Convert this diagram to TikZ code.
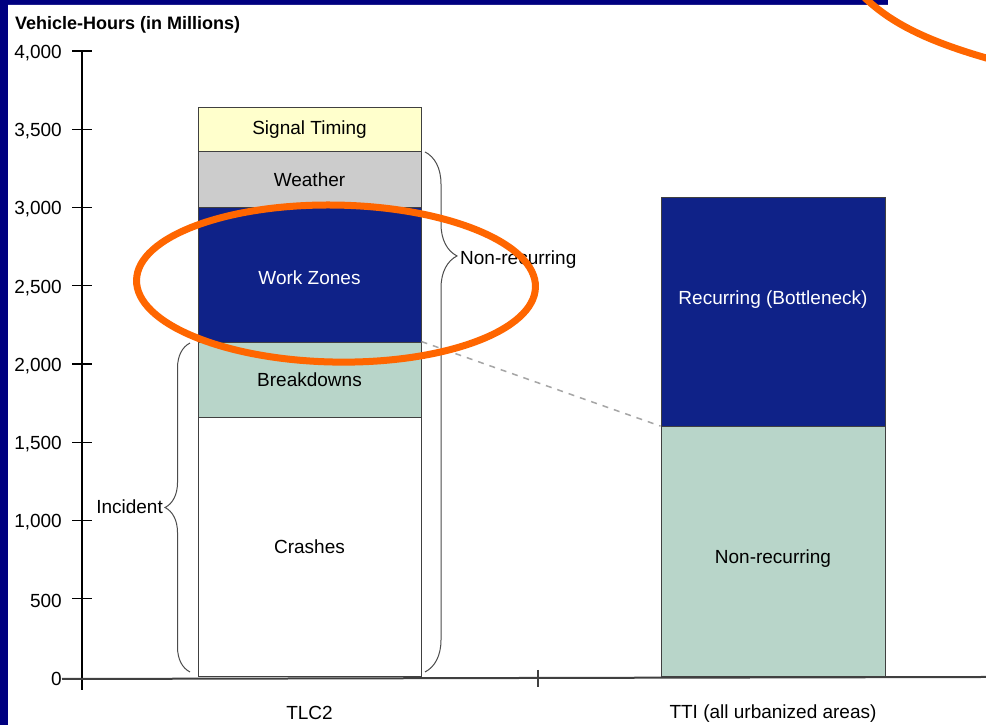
\documentclass[tikz,border=0pt]{standalone}
\usepackage{fontspec}
\setmainfont{Liberation Sans}
\usetikzlibrary{fit,decorations.pathreplacing}
\definecolor{slidenavy}{RGB}{0,0,128}
\definecolor{zonenavy}{RGB}{15,34,136}
\definecolor{breakteal}{RGB}{184,213,201}
\definecolor{weathergray}{RGB}{204,204,204}
\definecolor{signalyellow}{RGB}{255,255,204}
\definecolor{ringorange}{RGB}{255,102,0}
\begin{document}
\begin{tikzpicture}[x=1pt,y=0.1565pt,
		every node/.style={font=\fontsize{19}{21}\selectfont},
		seg/.style={draw=black!75,line width=1pt,inner sep=0pt},
		ticklbl/.style={anchor=east,inner sep=0pt,yshift=-2pt},
		tickmark/.style={line width=1.2pt},
		brc/.style={decorate,draw=black!70,line width=1pt},
		ring/.style={draw=ringorange,line width=7pt}]
		\fill[slidenavy] (0,-306.7) rectangle (986,4326);
		\fill[white] (8,-306.7) rectangle (986,4294) (888,4294) rectangle (986,4326);
		\useasboundingbox (0,-306.7) rectangle (986,4326);
		\node[anchor=west,inner sep=0pt,font=\fontsize{18}{20}\selectfont\bfseries] (ttl) at (15,4165) {Vehicle-Hours (in Millions)};
		\draw[tickmark] (72,4000) -- (92,4000); \node[ticklbl] (t4000) at (62,4000) {4,000};
		\draw[tickmark] (72,3500) -- (92,3500); \node[ticklbl] (t3500) at (62,3500) {3,500};
		\draw[tickmark] (72,3000) -- (92,3000); \node[ticklbl] (t3000) at (62,3000) {3,000};
		\draw[tickmark] (72,2500) -- (92,2500); \node[ticklbl] (t2500) at (62,2500) {2,500};
		\draw[tickmark] (72,2000) -- (92,2000); \node[ticklbl] (t2000) at (62,2000) {2,000};
		\draw[tickmark] (72,1500) -- (92,1500); \node[ticklbl] (t1500) at (62,1500) {1,500};
		\draw[tickmark] (72,1000) -- (92,1000); \node[ticklbl] (t1000) at (62,1000) {1,000};
		\draw[tickmark] (72,500) -- (92,500); \node[ticklbl] (t500) at (62,500) {500};
		\node[ticklbl] (t0) at (62,0) {0};
		\coordinate (ytop) at (82,4000);
		\coordinate (ybot) at (82,-83);
		\coordinate (xend) at (986,0);
		\draw[line width=1.5pt] (ytop) -- (ybot);
		\draw[line width=2pt,black!75] (t0.east) -- (xend);
		\draw[line width=2pt,black!75] (538,45) -- (538,-64);
		\node[seg,fill=white,fit={(198,0) (421,1660)},label={center:Crashes}] (crash) {};
		\node[seg,fill=breakteal,fit={(198,1660) (421,2140)},label={center:Breakdowns}] (brk) {};
		\node[seg,fill=zonenavy,fit={(198,2140) (421,3000)},label={[text=white,yshift=-3pt]center:Work Zones}] (wz) {};
		\node[seg,fill=weathergray,fit={(198,3000) (421,3355)},label={center:Weather}] (wthr) {};
		\node[seg,fill=signalyellow,fit={(198,3355) (421,3642)},label={center:Signal Timing}] (sig) {};
		\node[seg,fill=breakteal,fit={(661,0) (885,1600)},label={[yshift=-7pt]center:Non-recurring}] (ttinr) {};
		\node[seg,fill=zonenavy,fit={(661,1600) (885,3067)}] (ttirec) {};
		\node[text=white] (reclbl) at (773,2410) {Recurring (Bottleneck)};
		\node (tlc) at (309.5,-232) {TLC2};
		\node (tti) at (773,-232) {TTI (all urbanized areas)};
		\coordinate (nrtop) at (425,3355);
		\coordinate (nrbot) at (425,32);
		\draw[brc,decoration={brace,amplitude=32pt,aspect=0.2}] (nrtop) -- (nrbot);
		\node[anchor=west,inner sep=0pt] (nrlbl) at (460,2665) {Non-recurring};
		\coordinate (inbot) at (190,32);
		\coordinate (intop) at (190,2134);
		\draw[brc,decoration={brace,amplitude=25pt,aspect=0.5}] (inbot) -- (intop);
		\node[anchor=east,inner sep=0pt] (inlbl) at (163,1090) {Incident};
		\draw[black!35,line width=1.5pt,dash pattern=on 6pt off 6pt] (brk.north east) -- (ttinr.north west);
		\draw[ring,shift={(336,2514)},rotate=-1] (0,0) ellipse [x radius=199.5pt,y radius=78.5pt];
		\draw[ring] (864,4345) .. controls (890,4185) and (925,4065) .. (992,3945);
	\end{tikzpicture}
\end{document}
